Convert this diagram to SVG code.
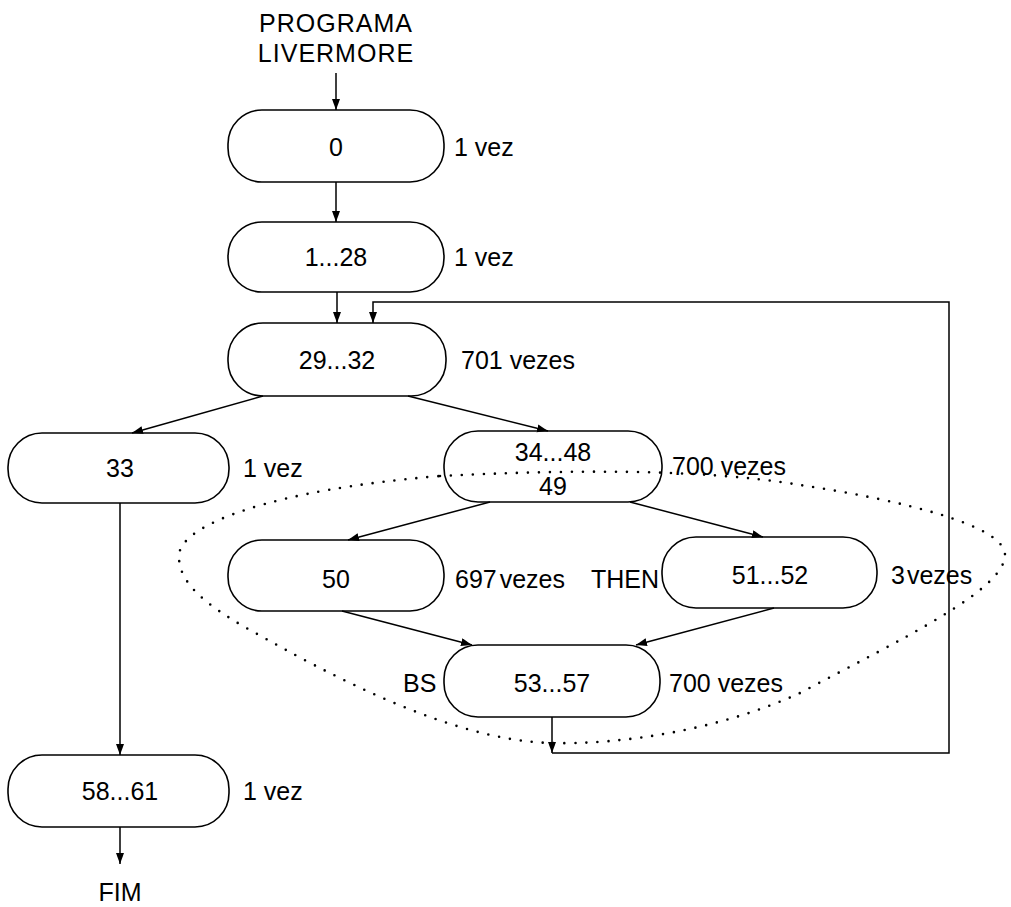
<svg xmlns="http://www.w3.org/2000/svg" width="1011" height="907" viewBox="0 0 1011 907">
<style>
.node rect{fill:#fff;stroke:#000;stroke-width:1.6}
text{font-family:"Liberation Sans",Arial,sans-serif;font-size:25px;fill:#000}
.c{text-anchor:middle}
.e{text-anchor:end}
.edge{fill:none;stroke:#000;stroke-width:1.5}
.dot{fill:none;stroke:#000;stroke-width:2.6;stroke-linecap:round;stroke-dasharray:0 11}
</style>
<defs>
<marker id="ah" markerWidth="12" markerHeight="10" refX="11" refY="4" orient="auto" markerUnits="userSpaceOnUse">
<path d="M0,0 L11,4 L0,8 Z" fill="#000"/>
</marker>
</defs>
<rect width="1011" height="907" fill="#fff"/>
<g id="start">
<text class="c" x="336" y="32" style="letter-spacing:1px">PROGRAMA</text>
<text class="c" x="336" y="62" style="letter-spacing:1px">LIVERMORE</text>
</g>
<g id="n0" class="node"><rect x="228" y="110" width="216" height="72" rx="34" ry="34"/><text class="c" x="336" y="156">0</text><text x="454" y="156">1 vez</text></g>
<g id="n1" class="node"><rect x="228" y="222" width="216" height="70" rx="34" ry="34"/><text class="c" x="336" y="266">1...28</text><text x="454" y="266">1 vez</text></g>
<g id="n2" class="node"><rect x="228" y="323" width="218" height="73" rx="35" ry="35"/><text class="c" x="337" y="369">29...32</text><text x="461" y="369">701 vezes</text></g>
<g id="n33" class="node"><rect x="8" y="433" width="221" height="70" rx="34" ry="34"/><text class="c" x="120" y="477">33</text><text x="243" y="477">1 vez</text></g>
<g id="n34" class="node"><rect x="444" y="431" width="218" height="71" rx="34" ry="34"/><text class="c" x="553" y="461">34...48</text><text class="c" x="553" y="495">49</text><text x="672" y="475">700 vezes</text></g>
<g id="n50" class="node"><rect x="228" y="540" width="216" height="71" rx="34" ry="34"/><text class="c" x="336" y="588">50</text><text x="455" y="588">697<tspan dx="3">vezes</tspan></text><text class="e" x="659" y="588">THEN</text></g>
<g id="n51" class="node"><rect x="662" y="537" width="215" height="71" rx="34" ry="34"/><text class="c" x="770" y="584">51...52</text><text x="891" y="584">3<tspan dx="2">vezes</tspan></text></g>
<g id="n53" class="node"><rect x="444" y="645" width="216" height="72" rx="34" ry="34"/><text class="c" x="552" y="692">53...57</text><text x="403" y="692">BS</text><text x="669" y="692">700 vezes</text></g>
<g id="n58" class="node"><rect x="8" y="755" width="221" height="72" rx="34" ry="34"/><text class="c" x="120" y="800">58...61</text><text x="243" y="800">1 vez</text></g>
<g id="end"><text class="c" x="120" y="901">FIM</text></g>
<g id="connectors">
<line class="edge" x1="336" y1="73" x2="336" y2="110" marker-end="url(#ah)"/>
<line class="edge" x1="336" y1="182" x2="336" y2="222" marker-end="url(#ah)"/>
<line class="edge" x1="337" y1="292" x2="337" y2="323" marker-end="url(#ah)"/>
<line class="edge" x1="263" y1="396" x2="132" y2="433" marker-end="url(#ah)"/>
<line class="edge" x1="408" y1="396" x2="548" y2="431" marker-end="url(#ah)"/>
<line class="edge" x1="490" y1="502" x2="348" y2="540" marker-end="url(#ah)"/>
<line class="edge" x1="630" y1="502" x2="763" y2="537" marker-end="url(#ah)"/>
<line class="edge" x1="342" y1="611" x2="472" y2="645" marker-end="url(#ah)"/>
<line class="edge" x1="774" y1="608" x2="636" y2="645" marker-end="url(#ah)"/>
<line class="edge" x1="552" y1="717" x2="552" y2="753" marker-end="url(#ah)"/>
<polyline class="edge" points="552,753 949,753 949,302 373,302 373,323" marker-end="url(#ah)"/>
<line class="edge" x1="120" y1="503" x2="120" y2="755" marker-end="url(#ah)"/>
<line class="edge" x1="120" y1="827" x2="120" y2="864" marker-end="url(#ah)"/>
</g>
<g id="loop">
<path class="dot" d="M440,476 C560,470 700,468 800,485 C900,500 1005,525 1005,555 C1005,590 900,640 800,693 C720,730 620,745 550,743 C450,740 330,675 250,630 C200,602 178,580 179,555 C181,525 270,490 440,476 Z"/>
</g>
</svg>
